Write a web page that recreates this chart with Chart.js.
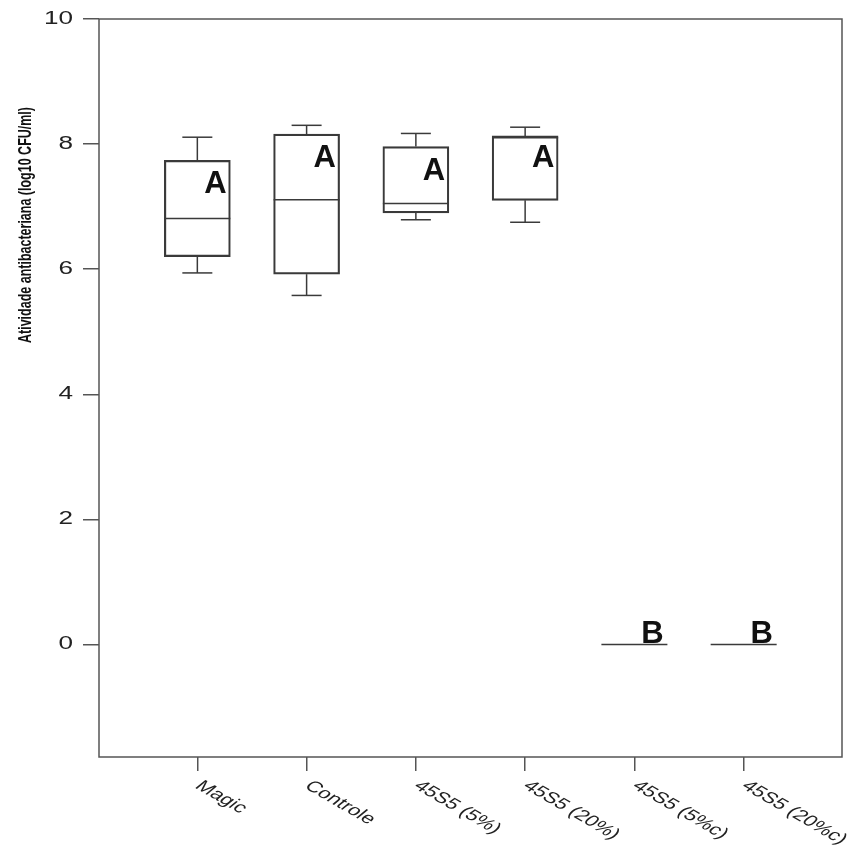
<!DOCTYPE html>
<html>
<head>
<meta charset="utf-8">
<script src="https://cdn.jsdelivr.net/npm/chart.js@4.4.1/dist/chart.umd.min.js"></script>
<style>
  html, body { margin: 0; padding: 0; background: #fff; }
</style>
</head>
<body>
<canvas id="boxChart" width="847" height="853"></canvas>
<script>
// dados - atividade antibacteriana por grupo
const categories = ['Magic', 'Controle', '45S5 (5%)', '45S5 (20%)', '45S5 (5%c)', '45S5 (20%c)'];
const whiskerLow = [5.94, 5.58, 6.79, 6.75, 0, 0];
const q1 = [6.20, 5.92, 6.90, 7.10, 0, 0];
const median = [6.81, 7.11, 7.05, 8.10, 0, 0];
const q3 = [7.74, 8.16, 7.96, 8.13, 0, 0];
const whiskerHigh = [8.11, 8.30, 8.17, 8.27, 0, 0];
const letters = ['A', 'A', 'A', 'A', 'B', 'B'];
const letterY = [7.22, 7.64, 7.43, 7.64, 0.03, 0.03];
const yTicks = [0, 2, 4, 6, 8, 10];
const yTitle = 'Atividade antibacteriana (log10 CFU/ml)';

const boxWidth = 66;
const capWidth = 30;
const lineColor = '#3a3a3a';
const stretch = 1.45; // a figura original está esticada na horizontal

function hline(ctx, x1, x2, yy) {
    ctx.beginPath();
    ctx.moveTo(x1, yy);
    ctx.lineTo(x2, yy);
    ctx.stroke();
}

function vline(ctx, xx, y1, y2) {
    ctx.beginPath();
    ctx.moveTo(xx, y1);
    ctx.lineTo(xx, y2);
    ctx.stroke();
}

// whiskers, medianas, letras, moldura e rótulos
const boxParts = {
    id: 'boxParts',
    afterDatasetsDraw(chart) {
        const ctx = chart.ctx;
        const x = chart.scales.x;
        const y = chart.scales.y;
        ctx.save();
        ctx.strokeStyle = lineColor;
        ctx.lineWidth = 1.5;
        categories.forEach((cat, i) => {
            const cx = x.getPixelForValue(i + 1);
            hline(ctx, cx - boxWidth / 2, cx + boxWidth / 2, y.getPixelForValue(median[i]));
            if (whiskerHigh[i] > q3[i]) {
                vline(ctx, cx, y.getPixelForValue(q3[i]), y.getPixelForValue(whiskerHigh[i]));
                hline(ctx, cx - capWidth / 2, cx + capWidth / 2, y.getPixelForValue(whiskerHigh[i]));
            }
            if (whiskerLow[i] < q1[i]) {
                vline(ctx, cx, y.getPixelForValue(q1[i]), y.getPixelForValue(whiskerLow[i]));
                hline(ctx, cx - capWidth / 2, cx + capWidth / 2, y.getPixelForValue(whiskerLow[i]));
            }
        });

        ctx.fillStyle = '#111';
        ctx.font = 'bold 31px "Liberation Sans", Arial, sans-serif';
        ctx.textAlign = 'center';
        ctx.textBaseline = 'alphabetic';
        letters.forEach((l, i) => {
            ctx.fillText(l, x.getPixelForValue(i + 1) + 18, y.getPixelForValue(letterY[i]));
        });
        ctx.restore();
    },
    afterDraw(chart) {
        const ctx = chart.ctx;
        const area = chart.chartArea;
        const x = chart.scales.x;
        const y = chart.scales.y;
        ctx.save();
        ctx.strokeStyle = '#555';
        ctx.lineWidth = 1.5;
        ctx.strokeRect(area.left, area.top, area.right - area.left, area.bottom - area.top);

        // rótulos do eixo y
        ctx.fillStyle = '#222';
        ctx.font = '18px "Liberation Sans", Arial, sans-serif';
        ctx.textAlign = 'right';
        ctx.textBaseline = 'middle';
        yTicks.forEach(v => {
            ctx.save();
            ctx.translate(area.left - 26, y.getPixelForValue(v));
            ctx.scale(stretch, 1);
            ctx.fillText(String(v), 0, 0);
            ctx.restore();
        });

        // rótulos do eixo x inclinados
        ctx.font = '15.5px "Liberation Sans", Arial, sans-serif';
        ctx.textAlign = 'left';
        ctx.textBaseline = 'top';
        categories.forEach((cat, i) => {
            ctx.save();
            ctx.translate(x.getPixelForValue(i + 1) + 8, area.bottom + 21);
            ctx.scale(stretch, 1);
            ctx.rotate(40 * Math.PI / 180);
            ctx.fillText(cat, 0, 0);
            ctx.restore();
        });

        // título do eixo y
        ctx.font = 'bold 18px "Liberation Sans", Arial, sans-serif';
        ctx.textAlign = 'center';
        ctx.textBaseline = 'middle';
        ctx.fillStyle = '#111';
        const w = ctx.measureText(yTitle).width;
        ctx.translate(26, 225);
        ctx.rotate(-Math.PI / 2);
        ctx.scale(236 / w, 1);
        ctx.fillText(yTitle, 0, 0);
        ctx.restore();
    }
};

new Chart(document.getElementById('boxChart'), {
    type: 'bar',
    data: {
        datasets: [{
            data: categories.map((cat, i) => ({ x: i + 1, y: q3[i] > q1[i] ? [q1[i], q3[i]] : null })),
            backgroundColor: 'rgba(0,0,0,0)',
            borderColor: lineColor,
            borderWidth: 1.5,
            borderSkipped: false,
            barThickness: boxWidth
        }]
    },
    options: {
        responsive: false,
        animation: false,
        layout: { padding: { top: 19, right: 5, left: 0, bottom: 0 } },
        plugins: {
            legend: { display: false },
            tooltip: { enabled: false }
        },
        scales: {
            x: {
                type: 'linear',
                offset: false,
                min: 0.1,
                max: 6.9,
                afterBuildTicks: scale => { scale.ticks = categories.map((c, i) => ({ value: i + 1 })); },
                afterFit: scale => { scale.height = 96; },
                grid: { offset: false, drawOnChartArea: false, tickLength: 14, color: '#555', lineWidth: 1.5 },
                border: { display: false },
                ticks: { display: false }
            },
            y: {
                min: -1.8,
                max: 10,
                afterBuildTicks: scale => { scale.ticks = yTicks.map(v => ({ value: v })); },
                afterFit: scale => { scale.width = 99; },
                grid: { drawOnChartArea: false, tickLength: 16, color: '#555', lineWidth: 1.5 },
                border: { display: false },
                ticks: { display: false }
            }
        }
    },
    plugins: [boxParts]
});
</script>
</body>
</html>
